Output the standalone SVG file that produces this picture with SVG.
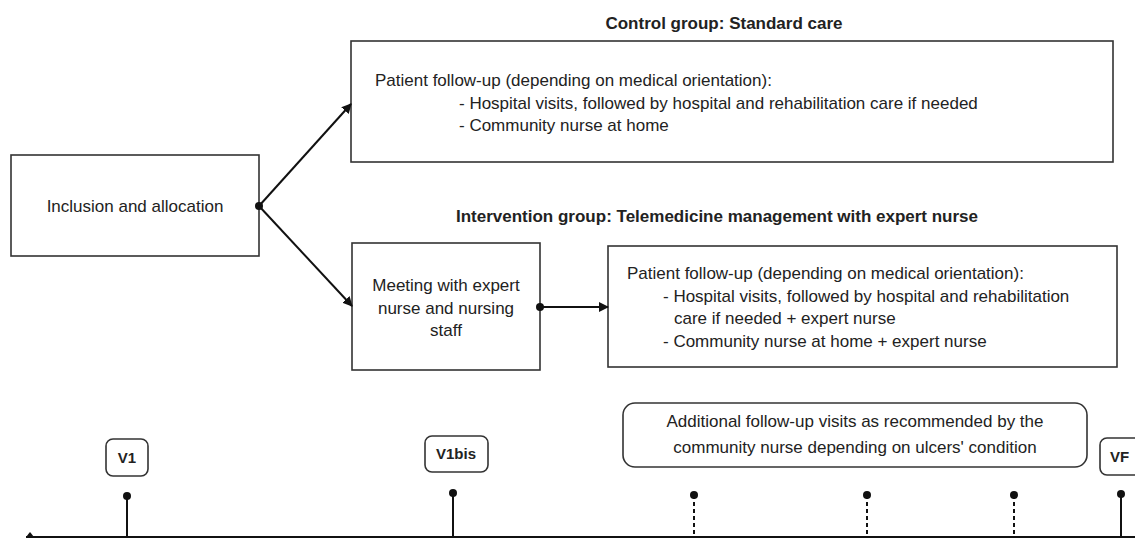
<svg xmlns="http://www.w3.org/2000/svg" width="1135" height="538" viewBox="0 0 1135 538">
  <style>
    .box { fill: #fff; stroke: #333; stroke-width: 1.6; }
    .tag { fill: #fff; stroke: #333; stroke-width: 1.6; }
    .txt { font-family: "Liberation Sans", Arial, sans-serif; font-size: 17px; fill: #222; }
    .small { font-size: 15px; }
    .mid { text-anchor: middle; }
    .bold { font-weight: bold; }
    .edge { stroke: #111; stroke-width: 2; fill: none; }
    .stem { stroke: #111; stroke-width: 2; fill: none; }
    .dash { stroke-dasharray: 4 3; }
    .dot { fill: #111; }
  </style>
  <defs>
    <marker id="arrow" viewBox="0 0 10 10" refX="9" refY="5" markerWidth="5" markerHeight="5" orient="auto" markerUnits="strokeWidth">
      <path d="M0,0 L10,5 L0,10 z" fill="#111"/>
    </marker>
  </defs>

  <!-- group headings -->
  <text class="txt bold mid" x="724" y="29">Control group: Standard care</text>
  <text class="txt bold mid" x="717" y="222">Intervention group: Telemedicine management with expert nurse</text>

  <g id="inclusion">
    <rect class="box" x="11" y="155" width="248" height="101"/>
    <text class="txt mid" x="135" y="212">Inclusion and allocation</text>
  </g>

  <g id="control-followup">
    <rect class="box" x="351" y="41" width="762" height="121"/>
    <text class="txt" x="375" y="86">Patient follow-up (depending on medical orientation):</text>
    <text class="txt" x="459" y="109">- Hospital visits, followed by hospital and rehabilitation care if needed</text>
    <text class="txt" x="459" y="131">- Community nurse at home</text>
  </g>

  <g id="meeting">
    <rect class="box" x="352" y="243" width="188" height="127"/>
    <text class="txt mid" x="446" y="291">Meeting with expert</text>
    <text class="txt mid" x="446" y="314">nurse and nursing</text>
    <text class="txt mid" x="446" y="336">staff</text>
  </g>

  <g id="intervention-followup">
    <rect class="box" x="608" y="246" width="509" height="121"/>
    <text class="txt" x="627" y="279">Patient follow-up (depending on medical orientation):</text>
    <text class="txt" x="663" y="302">- Hospital visits, followed by hospital and rehabilitation</text>
    <text class="txt" x="674" y="324">care if needed + expert nurse</text>
    <text class="txt" x="663" y="347">- Community nurse at home + expert nurse</text>
  </g>

  <g id="connectors">
    <circle class="dot" cx="259" cy="206" r="4"/>
    <line class="edge" x1="259" y1="206" x2="351" y2="104" marker-end="url(#arrow)"/>
    <line class="edge" x1="259" y1="206" x2="352" y2="306" marker-end="url(#arrow)"/>
    <circle class="dot" cx="540" cy="307" r="4"/>
    <line class="edge" x1="540" y1="307" x2="608" y2="307" marker-end="url(#arrow)"/>
  </g>

  <!-- timeline -->
  <g id="timeline">
    <line class="stem" x1="26" y1="537" x2="1135" y2="537"/>
    <path d="M26,537 L30,532 L34,537 z" fill="#111"/>
  </g>

  <g id="visit-v1">
    <rect class="tag" x="106" y="439" width="42" height="37" rx="7"/>
    <text class="txt small bold mid" x="127" y="463">V1</text>
    <line class="stem" x1="127" y1="496" x2="127" y2="537"/>
    <circle class="dot" cx="127" cy="496" r="4"/>
  </g>

  <g id="visit-v1bis">
    <rect class="tag" x="425" y="436" width="63" height="36" rx="7"/>
    <text class="txt small bold mid" x="456" y="459">V1bis</text>
    <line class="stem" x1="453" y1="493" x2="453" y2="537"/>
    <circle class="dot" cx="453" cy="493" r="4"/>
  </g>

  <g id="additional-visits">
    <rect class="tag" x="623" y="403" width="464" height="64" rx="12"/>
    <text class="txt mid" x="855" y="427">Additional follow-up visits as recommended by the</text>
    <text class="txt mid" x="855" y="453">community nurse depending on ulcers' condition</text>
    <line class="stem dash" x1="694" y1="495" x2="694" y2="537"/>
    <circle class="dot" cx="694" cy="495" r="4"/>
    <line class="stem dash" x1="867" y1="495" x2="867" y2="537"/>
    <circle class="dot" cx="867" cy="495" r="4"/>
    <line class="stem dash" x1="1014" y1="495" x2="1014" y2="537"/>
    <circle class="dot" cx="1014" cy="495" r="4"/>
  </g>

  <g id="visit-vf">
    <rect class="tag" x="1100" y="438" width="50" height="37" rx="7"/>
    <text class="txt small bold" x="1110" y="462">VF</text>
    <line class="stem" x1="1121" y1="494" x2="1121" y2="537"/>
    <circle class="dot" cx="1121" cy="494" r="4"/>
  </g>
</svg>
